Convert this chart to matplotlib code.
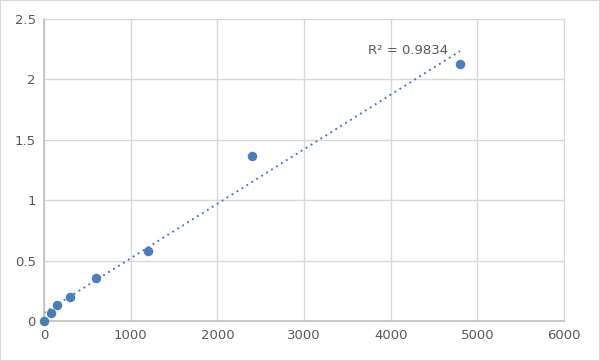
import numpy as np
import matplotlib.pyplot as plt

conc = [0, 75, 150, 300, 600, 1200, 2400, 4800]
od = [0.0, 0.065, 0.135, 0.2, 0.36, 0.58, 1.37, 2.13]
x_ticks = [0, 1000, 2000, 3000, 4000, 5000, 6000]
y_ticks = [0, 0.5, 1, 1.5, 2, 2.5]
y_labels = ['0', '0.5', '1', '1.5', '2', '2.5']

blue = '#4a7ebb'
grid = '#d9d9d9'
txt = '#595959'

fig = plt.figure(figsize=(6, 3.61), dpi=100)
fig.patches.append(plt.Rectangle((0, 0), 1, 1, transform=fig.transFigure,
                                 fill=False, edgecolor='#d9d9d9', linewidth=1.5))
ax = fig.add_axes([44 / 600, 40 / 361, 520 / 600, 302 / 361])

# linear trendline
slope, icpt = np.polyfit(conc, od, 1)
xs = np.array([0, 4800])
ax.plot(xs, slope * xs + icpt, color=blue, linestyle=(0, (1, 2)), linewidth=1.4, zorder=2)
ax.scatter(conc, od, s=34, color=blue, zorder=3, clip_on=False)

ax.set_xlim(0, 6000)
ax.set_ylim(0, 2.5)
ax.set_xticks(x_ticks)
ax.set_yticks(y_ticks)
ax.set_yticklabels(y_labels)
ax.grid(True, color=grid, linewidth=1)
ax.set_axisbelow(True)
for side in ['top', 'right']:
    ax.spines[side].set_color(grid)
for side in ['left', 'bottom']:
    ax.spines[side].set_color('#bfbfbf')
    ax.spines[side].set_linewidth(1.2)
ax.tick_params(length=0, labelsize=9.5, colors=txt, pad=6)

ax.text(4660, 2.24, 'R² = 0.9834', ha='right', va='center', fontsize=9.5, color=txt)

fig.savefig('out.png', dpi=100)
